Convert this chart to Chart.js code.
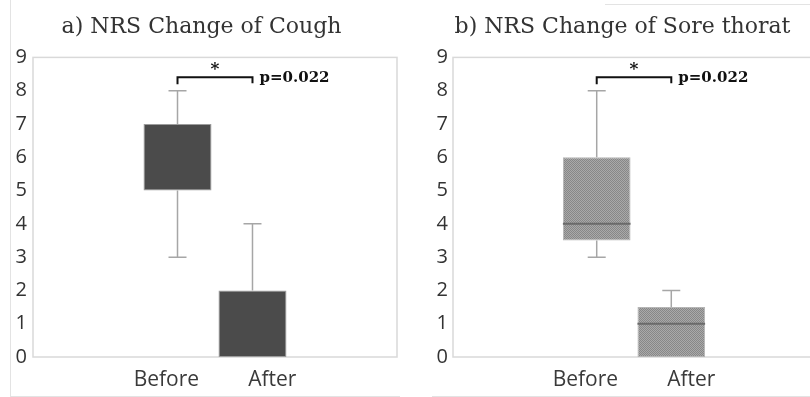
<!DOCTYPE html>
<html>
<head>
<meta charset="utf-8">
<script src="https://cdn.jsdelivr.net/npm/chart.js@4.4.1/dist/chart.umd.min.js"></script>
<style>
  body { margin: 0; width: 810px; height: 397px; overflow: hidden; background: #fff; position: relative; }
  .panel { position: absolute; top: 0; height: 397px; }
  .edge { position: absolute; background: #e3e3e3; }
</style>
</head>
<body>
<div class="edge" style="left:10px;top:0;width:1px;height:396px"></div>
<div class="edge" style="left:10px;top:396px;width:390px;height:1px"></div>
<div class="edge" style="left:605px;top:4px;width:205px;height:1px"></div>
<div class="edge" style="left:432px;top:396px;width:378px;height:1px"></div>
<div class="panel" style="left:6px;width:399px"><canvas id="cough"></canvas></div>
<div class="panel" style="left:430px;width:400px"><canvas id="sore"></canvas></div>
<script>
// categories
const groups = ['Before', 'After']

// a) cough NRS, box stats per group
const coughMin = [3, 0]
const coughQ1 = [5, 0]
const coughQ3 = [7, 2]
const coughMax = [8, 4]

// b) sore throat NRS
const soreMin = [3, 0]
const soreQ1 = [3.5, 0]
const soreMedian = [4, 1]
const soreQ3 = [6, 1.5]
const soreMax = [8, 2]

// significance bracket
const bracketY = 8.4
const pText = 'p=0.022'

// small checker pattern like the hatched excel fill
function hatch() {
    let c = document.createElement('canvas')
    c.width = 2
    c.height = 2
    let g = c.getContext('2d')
    g.fillStyle = '#a9a9a9'
    g.fillRect(0, 0, 2, 2)
    g.fillStyle = '#878787'
    g.fillRect(0, 0, 1, 1)
    g.fillRect(1, 1, 1, 1)
    return g.createPattern(c, 'repeat')
}

function boxExtras(mins, maxs, medians) {
    return {
        id: 'boxExtras',
        beforeDatasetsDraw(chart) {
            // plot frame
            let a = chart.chartArea
            let ctx = chart.ctx
            ctx.save()
            ctx.strokeStyle = '#d9d9d9'
            ctx.lineWidth = 1.5
            ctx.strokeRect(a.left, a.top, a.right - a.left, a.bottom - a.top)
            ctx.restore()
        },
        afterDatasetsDraw(chart) {
            let ctx = chart.ctx
            let y = chart.scales.y
            let xs = []
            ctx.save()
            chart.data.datasets.forEach((ds, i) => {
                let bar = chart.getDatasetMeta(i).data[0]
                let [q1, q3] = ds.data[0]
                let x = bar.x
                xs.push(x)
                ctx.strokeStyle = '#a6a6a6'
                ctx.lineWidth = 1.5
                ctx.beginPath()
                if (maxs[i] > q3) {
                    ctx.moveTo(x, y.getPixelForValue(q3))
                    ctx.lineTo(x, y.getPixelForValue(maxs[i]))
                    ctx.moveTo(x - 9, y.getPixelForValue(maxs[i]))
                    ctx.lineTo(x + 9, y.getPixelForValue(maxs[i]))
                }
                if (mins[i] < q1) {
                    ctx.moveTo(x, y.getPixelForValue(q1))
                    ctx.lineTo(x, y.getPixelForValue(mins[i]))
                    ctx.moveTo(x - 9, y.getPixelForValue(mins[i]))
                    ctx.lineTo(x + 9, y.getPixelForValue(mins[i]))
                }
                ctx.stroke()
                if (medians) {
                    let my = y.getPixelForValue(medians[i])
                    ctx.strokeStyle = '#6a6a6a'
                    ctx.lineWidth = 2
                    ctx.beginPath()
                    ctx.moveTo(x - bar.width / 2, my)
                    ctx.lineTo(x + bar.width / 2, my)
                    ctx.stroke()
                }
            })

            // bracket with star and p value
            let by = y.getPixelForValue(bracketY)
            ctx.strokeStyle = '#111'
            ctx.lineWidth = 2
            ctx.beginPath()
            ctx.moveTo(xs[0], by + 7)
            ctx.lineTo(xs[0], by)
            ctx.lineTo(xs[1], by)
            ctx.lineTo(xs[1], by + 6)
            ctx.stroke()
            ctx.fillStyle = '#111'
            ctx.textAlign = 'center'
            ctx.textBaseline = 'middle'
            ctx.font = 'bold 17px "DejaVu Serif"'
            ctx.fillText('*', (xs[0] + xs[1]) / 2, by - 8)
            ctx.font = 'bold 15px "DejaVu Serif"'
            ctx.textAlign = 'left'
            ctx.fillText(pText, xs[1] + 7, by + 1)
            ctx.restore()
        }
    }
}

function boxOptions(title, yWidth, tickPad, rightPad) {
    return {
        responsive: true,
        maintainAspectRatio: false,
        animation: false,
        layout: { padding: { top: 0, right: rightPad, bottom: 0, left: 0 } },
        plugins: {
            legend: { display: false },
            tooltip: { enabled: false },
            title: {
                display: true,
                text: title,
                color: '#333333',
                font: { family: 'DejaVu Serif', size: 22, weight: 'normal' },
                padding: { top: 14, bottom: 17 }
            }
        },
        scales: {
            x: {
                grid: { display: false, drawTicks: false },
                border: { display: false },
                ticks: {
                    color: '#3a3a3a',
                    padding: 10,
                    font: { family: 'Open Sans', size: 21 },
                    callback: () => groups.join(' '.repeat(9))
                },
                afterFit: (s) => { s.height = 40 }
            },
            y: {
                min: 0,
                max: 9,
                grid: { display: false, drawTicks: false },
                border: { display: false },
                ticks: {
                    stepSize: 1,
                    autoSkip: false,
                    color: '#333333',
                    padding: tickPad,
                    font: { family: 'Open Sans', size: 20 }
                },
                afterFit: (s) => { s.width = yWidth }
            }
        }
    }
}

function boxDatasets(q1, q3, fill, border) {
    return groups.map((g, i) => ({
        label: g,
        data: [[q1[i], q3[i]]],
        backgroundColor: fill,
        borderColor: border,
        borderWidth: 1,
        borderSkipped: false,
        categoryPercentage: 0.412,
        barPercentage: 0.907
    }))
}

new Chart('cough', {
    type: 'bar',
    data: { labels: ['groups'], datasets: boxDatasets(coughQ1, coughQ3, '#4b4b4b', '#9c9c9c') },
    options: boxOptions('a) NRS Change of Cough', 27, 6, 8),
    plugins: [boxExtras(coughMin, coughMax, null)]
})

new Chart('sore', {
    type: 'bar',
    data: { labels: ['groups'], datasets: boxDatasets(soreQ1, soreQ3, hatch(), '#b5b5b5') },
    options: boxOptions('b) NRS Change of Sore thorat', 23, 5, 15),
    plugins: [boxExtras(soreMin, soreMax, soreMedian)]
})
</script>
</body>
</html>
